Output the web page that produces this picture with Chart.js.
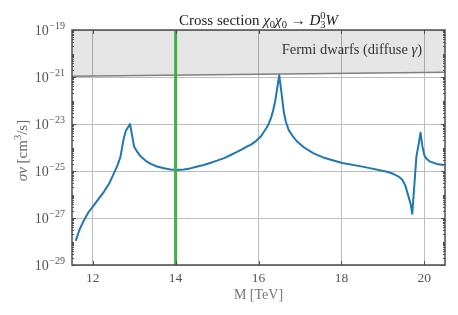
<!DOCTYPE html>
<html>
<head>
<meta charset="utf-8">
<script src="https://cdn.jsdelivr.net/npm/chart.js@4.4.1/dist/chart.umd.min.js"></script>
<style>
  html, body { margin: 0; padding: 0; background: #fff; }
</style>
</head>
<body>
<canvas id="chart" width="458" height="315"></canvas>
<script>
// curve: mass in TeV, sigma*v in cm^3/s
const massTeV = [11.59, 11.68, 11.79, 11.90, 12.03, 12.15, 12.27, 12.40, 12.51, 12.60, 12.67, 12.75, 12.80, 12.90,
  13.00, 13.08, 13.16, 13.28, 13.40, 13.55, 13.72, 13.88, 14.04, 14.20, 14.35, 14.50, 14.68, 14.85, 15.00,
  15.17, 15.33, 15.47, 15.60, 15.72, 15.81, 15.92, 16.00, 16.07, 16.13, 16.20, 16.25, 16.30, 16.35, 16.40,
  16.45, 16.50, 16.55, 16.61, 16.66, 16.73, 16.82, 16.93, 17.10, 17.33, 17.60, 18.02, 18.54, 19.10, 19.25,
  19.38, 19.47, 19.54, 19.62, 19.67, 19.71, 19.76, 19.81, 19.86, 19.91, 19.95, 20.00, 20.05, 20.14, 20.30, 20.47];
const sigmaV = [1.07e-28, 3.16e-28, 8.1e-28, 1.78e-27, 3.5e-27, 6.8e-27, 1.3e-26, 3.0e-26, 7.9e-26, 1.78e-25, 4.1e-25, 2.5e-24, 5.2e-24, 1.0e-23,
  1.07e-24, 6.3e-25, 4.1e-25, 2.7e-25, 2.0e-25, 1.55e-25, 1.3e-25, 1.15e-25, 1.1e-25, 1.15e-25, 1.29e-25, 1.51e-25, 1.8e-25, 2.24e-25, 2.75e-25,
  3.55e-25, 4.8e-25, 6.3e-25, 8.3e-25, 1.1e-24, 1.3e-24, 1.78e-24, 2.34e-24, 3.16e-24, 4.7e-24, 7.1e-24, 1.05e-23, 1.78e-23, 3.55e-23, 8.9e-23,
  3.16e-22, 1.2e-21, 2.5e-22, 3.3e-23, 1.25e-23, 5.5e-24, 3.16e-24, 1.8e-24, 1.0e-24, 5.6e-25, 3.55e-25, 2.2e-25, 1.5e-25, 9.3e-26, 7.6e-26,
  5.8e-26, 4.2e-26, 2.5e-26, 8.1e-27, 4.0e-27, 1.5e-27, 2.5e-26, 4.1e-25, 1.26e-24, 4.3e-24, 1.26e-24, 4.8e-25, 3.4e-25, 2.5e-25, 2.0e-25, 1.8e-25];

// Fermi dwarfs limit (diffuse gamma)
const fermiMass = [11.5, 20.5];
const fermiSigmaV = [1.07e-21, 1.6e-21];

const markerMass = 14;
const xTicks = [12, 14, 16, 18, 20];
const yTicks = [1e-29, 1e-27, 1e-25, 1e-23, 1e-21, 1e-19];

const serif = '"Liberation Serif", "DejaVu Serif", serif';
const frameColor = "#4d4d4d";

function drawRuns(ctx, runs, x, baseline) {
  for (const r of runs) {
    ctx.font = r.f;
    ctx.fillText(r.t, x, baseline + (r.dy || 0));
    if (!r.noAdv) x += ctx.measureText(r.t).width;
  }
}
function runsWidth(ctx, runs) {
  let w = 0;
  for (const r of runs) {
    ctx.font = r.f;
    if (!r.noAdv) w += ctx.measureText(r.t).width;
  }
  return w;
}

const decor = {
  id: "decor",
  afterDraw(chart) {
    const { ctx, chartArea: a, scales: { x, y } } = chart;
    ctx.save();

    // inward ticks on all four sides
    ctx.strokeStyle = frameColor;
    ctx.lineWidth = 1;
    ctx.beginPath();
    for (let n = -29; n <= -19; n++) {
      for (let k = 1; k < 10; k++) {
        if (n === -19 && k > 1) break;
        const py = Math.round(y.getPixelForValue(k * Math.pow(10, n))) + 0.5;
        const len = (k === 1 && n % 2 !== 0) ? 4 : 2;
        ctx.moveTo(a.left, py); ctx.lineTo(a.left + len, py);
        ctx.moveTo(a.right, py); ctx.lineTo(a.right - len, py);
      }
    }
    for (const v of xTicks) {
      const px = Math.round(x.getPixelForValue(v)) + 0.5;
      ctx.moveTo(px, a.bottom); ctx.lineTo(px, a.bottom - 4);
      ctx.moveTo(px, a.top); ctx.lineTo(px, a.top + 4);
    }
    ctx.stroke();

    // frame
    ctx.lineWidth = 1.5;
    ctx.strokeRect(a.left, a.top, a.right - a.left, a.bottom - a.top);

    // y tick labels 10^n
    ctx.fillStyle = "#555";
    ctx.textBaseline = "alphabetic";
    for (const v of yTicks) {
      const py = y.getPixelForValue(v);
      const exp = "\u2212" + Math.abs(Math.round(Math.log10(v)));
      ctx.font = `10px ${serif}`;
      const we = ctx.measureText(exp).width;
      ctx.textAlign = "left";
      ctx.fillText(exp, 65 - we, py - 1);
      ctx.font = `14px ${serif}`;
      ctx.textAlign = "right";
      ctx.fillText("10", 65 - we - 0.5, py + 5);
    }
    ctx.textAlign = "left";

    // title
    const it = `italic 15px ${serif}`, nm = `15px ${serif}`, sm = `10.5px ${serif}`;
    const title = [
      { t: "Cross section ", f: nm },
      { t: "\u03c7", f: it }, { t: "0", f: sm, dy: 3 },
      { t: "\u03c7", f: it }, { t: "0", f: sm, dy: 3 },
      { t: " \u2192 ", f: nm },
      { t: "D", f: it }, { t: "0", f: sm, dy: -6, noAdv: true }, { t: "3", f: sm, dy: 3 },
      { t: "W", f: it }
    ];
    ctx.fillStyle = "#222";
    const cx = (a.left + a.right) / 2;
    drawRuns(ctx, title, cx - runsWidth(ctx, title) / 2, 25);

    // y axis title, rotated
    const yit = `italic 15px ${serif}`, ynm = `15px ${serif}`;
    const ylab = [
      { t: "\u03c3v", f: yit },
      { t: " [cm", f: ynm },
      { t: "3", f: sm, dy: -6 },
      { t: "/s]", f: ynm }
    ];
    ctx.fillStyle = "#666";
    ctx.translate(27, (a.top + a.bottom) / 2 + 3);
    ctx.rotate(-Math.PI / 2);
    drawRuns(ctx, ylab, -runsWidth(ctx, ylab) / 2, 0);
    ctx.setTransform(1, 0, 0, 1, 0, 0);

    // Fermi label
    const fnm = `14.5px ${serif}`;
    const flab = [
      { t: "Fermi dwarfs (diffuse ", f: fnm },
      { t: "\u03b3", f: `italic 14.5px ${serif}` },
      { t: ")", f: fnm }
    ];
    ctx.fillStyle = "#333";
    drawRuns(ctx, flab, 422 - runsWidth(ctx, flab), 54);

    ctx.restore();
  }
};

new Chart(document.getElementById("chart"), {
  type: "line",
  data: {
    datasets: [
      {
        data: [{ x: markerMass, y: 1e-29 }, { x: markerMass, y: 1e-19 }],
        borderColor: "#40b040",
        borderWidth: 3,
        pointRadius: 0,
        order: 0
      },
      {
        data: massTeV.map((m, i) => ({ x: m, y: sigmaV[i] })),
        borderColor: "#1f77b4",
        borderWidth: 2,
        pointRadius: 0,
        tension: 0,
        borderJoinStyle: "round",
        order: 1
      },
      {
        data: fermiMass.map((m, i) => ({ x: m, y: fermiSigmaV[i] })),
        borderColor: "#7f7f7f",
        borderWidth: 1.5,
        backgroundColor: "rgba(0,0,0,0.1)",
        fill: "end",
        pointRadius: 0,
        order: 2
      }
    ]
  },
  options: {
    responsive: false,
    animation: false,
    devicePixelRatio: 1,
    layout: { padding: { left: 0, right: 13, top: 30, bottom: 0 } },
    plugins: { legend: { display: false }, tooltip: { enabled: false } },
    scales: {
      x: {
        type: "linear",
        min: 11.5,
        max: 20.5,
        afterBuildTicks: (s) => { s.ticks = xTicks.map((v) => ({ value: v })); },
        afterFit: (s) => { s.height = 50; },
        grid: { color: "#bdbdbd", lineWidth: 1, drawTicks: false },
        border: { display: false },
        ticks: { color: "#555", padding: 5, font: { family: serif, size: 13.5 } },
        title: {
          display: true,
          text: "M [TeV]",
          color: "#777",
          font: { family: serif, size: 14 },
          padding: { top: 0, bottom: 11 }
        }
      },
      y: {
        type: "logarithmic",
        min: 1e-29,
        max: 1e-19,
        afterBuildTicks: (s) => { s.ticks = yTicks.map((v) => ({ value: v })); },
        afterFit: (s) => { s.width = 72; },
        grid: { color: "#bdbdbd", lineWidth: 1, drawTicks: false },
        border: { display: false },
        ticks: { display: false }
      }
    }
  },
  plugins: [decor]
});
</script>
</body>
</html>
